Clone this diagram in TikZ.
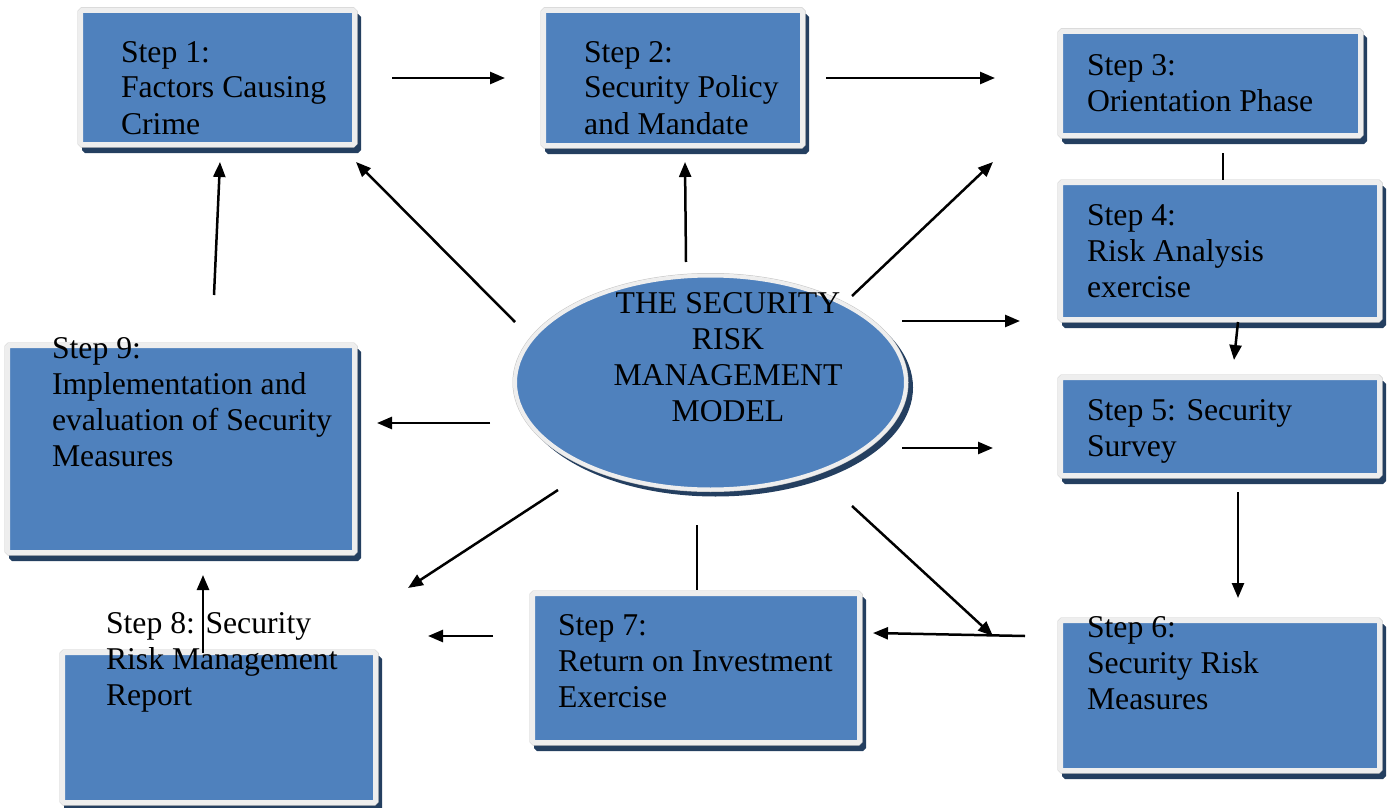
\documentclass[tikz,border=0pt]{standalone}
\usepackage{fontspec}
\setmainfont{Liberation Serif}
\usetikzlibrary{arrows.meta,shapes.geometric}
\definecolor{boxblue}{HTML}{4F81BD}
\definecolor{rimgray}{HTML}{EEEEEE}
\definecolor{rimline}{HTML}{C4C4C4}
\definecolor{shadenavy}{HTML}{243F60}
\tikzset{
  stepbox/.style={rectangle, inner sep=0pt, outer sep=0pt, fill=boxblue,
    draw=rimgray, line width=5pt, rounded corners=1.5pt,
    preaction={draw=shadenavy, fill=shadenavy, line width=5pt, transform canvas={shift={(4pt,-6pt)}}},
    preaction={draw=rimline, line width=6pt}},
  modelshape/.style={ellipse, inner sep=0pt, outer sep=0pt, fill=boxblue,
    draw=rimgray, line width=4pt,
    preaction={draw=shadenavy, fill=shadenavy, line width=4pt, transform canvas={shift={(5pt,-5pt)}}},
    preaction={draw=rimline, line width=5pt}},
  steptext/.style={inner sep=0pt, outer sep=0pt, align=left, text=black,
    font=\fontsize{31.7}{36}\selectfont},
  arr/.style={line width=2.5pt, -{Triangle[length=15pt,width=12pt]}},
  conn/.style={line width=2.5pt}
}
\begin{document}
\begin{tikzpicture}[x=1pt,y=-1pt]
\useasboundingbox (0,0) rectangle (1390,808);
% boxes
\node[stepbox, minimum width=274pt, minimum height=134pt] (s1) at (217.5,77.5) {};
\node[stepbox, minimum width=259pt, minimum height=135pt] (s2) at (673,78) {};
\node[stepbox, minimum width=300pt, minimum height=104pt] (s3) at (1210.5,83.5) {};
\node[stepbox, minimum width=319pt, minimum height=137pt] (s4) at (1220,251) {};
\node[stepbox, minimum width=319pt, minimum height=98pt] (s5) at (1220,426.5) {};
\node[stepbox, minimum width=319pt, minimum height=150pt] (s6) at (1220,695.5) {};
\node[stepbox, minimum width=327pt, minimum height=149pt] (s7) at (696,668) {};
\node[stepbox, minimum width=313pt, minimum height=150pt] (s8) at (219,727.5) {};
\node[stepbox, minimum width=347pt, minimum height=207pt] (s9) at (181,449) {};
\node[modelshape, minimum width=391pt, minimum height=214pt] (model) at (710.5,382.5) {};
% connector end points
\coordinate (a1s) at (392,78);   \coordinate (a1e) at (505,78);
\coordinate (a2s) at (826,78);   \coordinate (a2e) at (995,78);
\coordinate (a3s) at (686,262);  \coordinate (a3e) at (685,162);
\coordinate (a4s) at (515,322);  \coordinate (a4e) at (356,162);
\coordinate (a5s) at (852,296);  \coordinate (a5e) at (993,162);
\coordinate (a6s) at (902,321);  \coordinate (a6e) at (1020,321);
\coordinate (a7s) at (902,448);  \coordinate (a7e) at (993,448);
\coordinate (a8s) at (852,506);  \coordinate (a8e) at (993,636);
\coordinate (a9s) at (1025,636); \coordinate (a9e) at (873,633);
\coordinate (a10s) at (490,423); \coordinate (a10e) at (377,423);
\coordinate (a11s) at (558,490); \coordinate (a11e) at (408,588);
\coordinate (a12s) at (493,636); \coordinate (a12e) at (428,636);
\coordinate (a13s) at (203,653); \coordinate (a13e) at (203,575);
\coordinate (a14s) at (214,295); \coordinate (a14e) at (220,162);
\coordinate (l15s) at (697,525); \coordinate (l15e) at (697,590);
\coordinate (l16s) at (1223,153); \coordinate (l16e) at (1223,180);
\coordinate (a17s) at (1238,322); \coordinate (a17e) at (1234,360);
\coordinate (a18s) at (1238,492); \coordinate (a18e) at (1238,598);
% connectors
\draw[arr] (a1s) -- (a1e);
\draw[arr] (a2s) -- (a2e);
\draw[arr] (a3s) -- (a3e);
\draw[arr] (a4s) -- (a4e);
\draw[arr] (a5s) -- (a5e);
\draw[arr] (a6s) -- (a6e);
\draw[arr] (a7s) -- (a7e);
\draw[arr] (a8s) -- (a8e);
\draw[arr] (a9s) -- (a9e);
\draw[arr] (a10s) -- (a10e);
\draw[arr] (a11s) -- (a11e);
\draw[arr] (a12s) -- (a12e);
\draw[arr] (a13s) -- (a13e);
\draw[arr] (a14s) -- (a14e);
\draw[conn] (l15s) -- (l15e);
\draw[conn] (l16s) -- (l16e);
\draw[arr] (a17s) -- (a17e);
\draw[arr] (a18s) -- (a18e);
% texts (anchored at the baseline of the last line)
\node[steptext, anchor=base west] (t1) at (121,134) {Step 1:\\Factors Causing\\Crime};
\node[steptext, anchor=base west] (t2) at (584,134) {Step 2:\\Security Policy\\and Mandate};
\node[steptext, anchor=base west] (t3) at (1087,111) {Step 3:\\Orientation Phase};
\node[steptext, anchor=base west] (t4) at (1087,297) {Step 4:\\Risk Analysis\\exercise};
\node[steptext, anchor=base west] (t5) at (1087,456) {Step 5: Security\\Survey};
\node[steptext, anchor=base west] (t6) at (1087,709) {Step 6:\\Security Risk\\Measures};
\node[steptext, anchor=base west] (t7) at (558,707) {Step 7:\\Return on Investment\\Exercise};
\node[steptext, anchor=base west] (t8) at (106,705) {Step 8: Security\\Risk Management\\Report};
\node[steptext, anchor=base west] (t9) at (52,466) {Step 9:\\Implementation and\\evaluation of Security\\Measures};
\node[steptext, align=center, anchor=base] (tm) at (728,421) {THE SECURITY\\RISK\\MANAGEMENT\\MODEL};
\end{tikzpicture}
\end{document}
